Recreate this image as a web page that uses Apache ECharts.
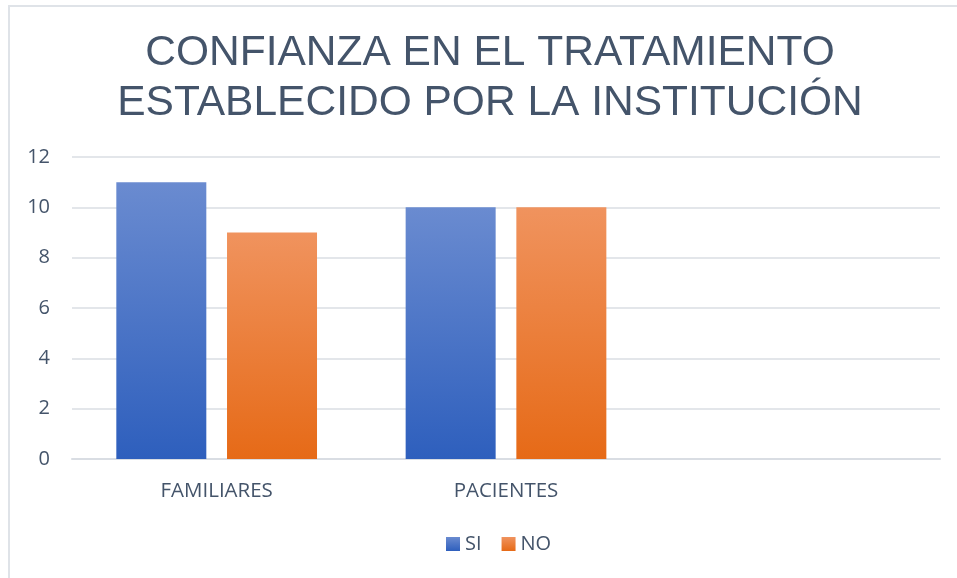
<!DOCTYPE html>
<html>
<head>
<meta charset="utf-8">
<script src="https://cdn.jsdelivr.net/npm/echarts@6/dist/echarts.min.js"></script>
<style>
  html, body { margin: 0; padding: 0; background: #fff; }
  #chart { width: 957px; height: 578px; }
</style>
</head>
<body>
<div id="chart"></div>
<script>
const categories = ['FAMILIARES', 'PACIENTES', ''];
const siValues = [11, 10, null];
const noValues = [9, 10, null];
const yTicks = [0, 2, 4, 6, 8, 10, 12];

const textColor = '#44546a';

function grad(top, bottom) {
  return new echarts.graphic.LinearGradient(0, 0, 0, 1, [
    { offset: 0, color: top },
    { offset: 1, color: bottom }
  ]);
}

const chart = echarts.init(document.getElementById('chart'));
chart.setOption({
  animation: false,
  title: {
    text: 'CONFIANZA EN EL TRATAMIENTO\nESTABLECIDO POR LA INSTITUCIÓN',
    left: 485,
    top: 23,
    textAlign: 'center',
    textStyle: {
      fontFamily: 'Liberation Sans',
      fontWeight: 'normal',
      fontSize: 42.5,
      lineHeight: 50,
      color: textColor
    }
  },
  graphic: [{
    type: 'rect',
    shape: { x: 9, y: 6, width: 980, height: 600 },
    style: { fill: 'none', stroke: '#dfe3e8', lineWidth: 2 },
    silent: true
  }],
  legend: {
    bottom: 19,
    left: 441,
    itemWidth: 14,
    itemHeight: 14,
    itemGap: 20,
    icon: 'rect',
    textStyle: { fontFamily: 'Open Sans', fontSize: 20, color: textColor },
    data: ['SI', 'NO']
  },
  grid: { left: 72, right: 17, top: 157, bottom: 119 },
  xAxis: {
    type: 'category',
    data: categories,
    axisLine: { lineStyle: { color: '#d9dde3', width: 2 } },
    axisTick: { show: false },
    axisLabel: { fontFamily: 'Open Sans', fontSize: 20.5, color: textColor, margin: 22 }
  },
  yAxis: {
    type: 'value',
    min: yTicks[0],
    max: yTicks[yTicks.length - 1],
    interval: 2,
    axisLine: { show: false },
    axisTick: { show: false },
    axisLabel: { fontFamily: 'Open Sans', fontSize: 20, color: textColor, margin: 22 },
    splitLine: { lineStyle: { color: '#e3e6ea', width: 2 } }
  },
  series: [
    {
      name: 'SI',
      type: 'bar',
      data: siValues,
      barWidth: 90,
      barGap: '23%',
      itemStyle: { color: grad('#6a8bd0', '#2e5fbd') }
    },
    {
      name: 'NO',
      type: 'bar',
      data: noValues,
      barWidth: 90,
      itemStyle: { color: grad('#f0935e', '#e66a17') }
    }
  ]
});
</script>
</body>
</html>
